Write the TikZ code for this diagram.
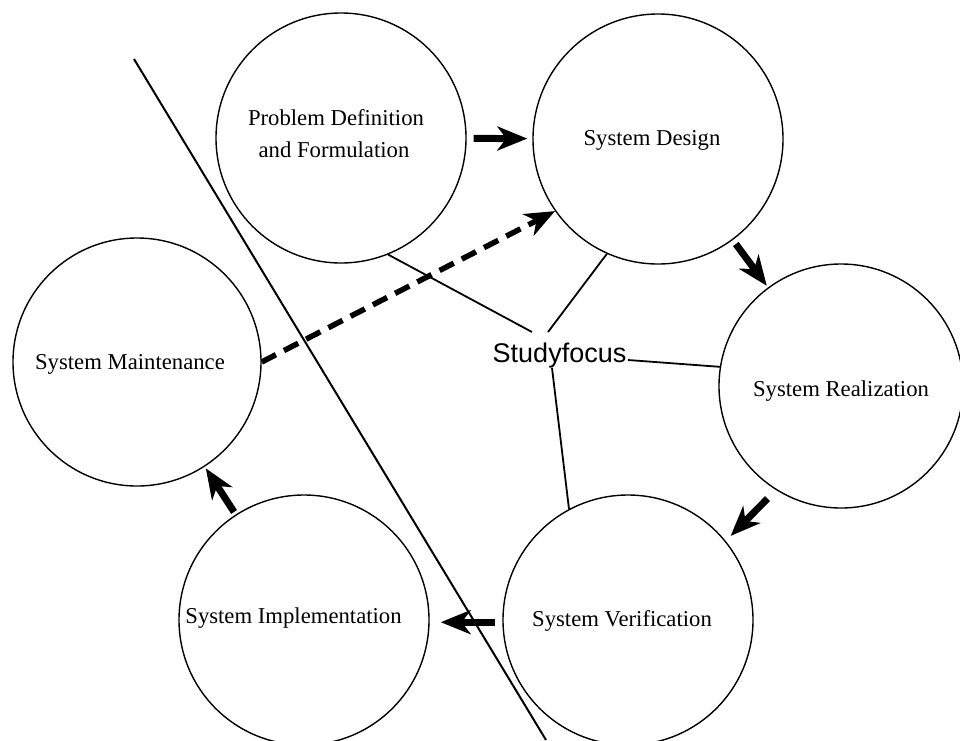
\documentclass[tikz,border=0pt]{standalone}
\usepackage{fontspec}
\setmainfont{Liberation Serif}
\newfontfamily\sfocus{Liberation Sans}
\usetikzlibrary{arrows.meta,calc}
\begin{document}
\begin{tikzpicture}[x=1pt,y=-1pt,
  stage/.style={circle,draw,line width=1.4pt,minimum size=250pt,inner sep=0pt},
  lbl/.style={font=\fontsize{22.7}{27}\selectfont,anchor=base,inner sep=0pt},
  flow/.style={line width=7pt,-{Stealth[length=30pt,width=24pt,inset=9pt]}},
  back/.style={line width=5.5pt,dash pattern=on 16pt off 9pt,-{Stealth[length=30pt,width=24pt,inset=9pt]}},
  link/.style={line width=1.8pt},
  divider/.style={line width=2pt}
]
\useasboundingbox (0,0) rectangle (960,740);
\fill[white] (0,0) rectangle (960,740);

% stages
\node[stage] (PD) at (341,138) {};
\node[stage] (SD) at (658,139) {};
\node[stage,minimum size=244pt] (SR) at (841,386) {};
\node[stage] (SV) at (628,620) {};
\node[stage] (SI) at (304,620) {};
\node[stage,minimum size=248pt] (SM) at (137,362) {};

% labels
\node[lbl] (PDa) at (336,125) {Problem Definition};
\node[lbl] (PDb) at (334,157) {and Formulation};
\node[lbl] (SDt) at (652,145) {System Design};
\node[lbl] (SRt) at (841,396) {System Realization};
\node[lbl] (SVt) at (622,626) {System Verification};
\node[lbl] (SIt) at (293.5,623) {System Implementation};
\node[lbl] (SMt) at (130,369) {System Maintenance};

% study focus
\node[font=\sfocus\fontsize{27}{30}\selectfont,anchor=base,inner sep=0pt] (SF) at (559.5,362) {Studyfocus};
\coordinate (fa) at (532,332);
\coordinate (fb) at (548,332);
\coordinate (fc) at (628,360);
\coordinate (fd) at (552,368);
\draw[link] (PD.292) -- (fa);
\draw[link] (SD.246) -- (fb);
\draw[link] (fc) -- (SR.171);
\draw[link] (fd) -- (SV.118);

% divider
\coordinate (L1) at (134,59);
\coordinate (L2) at (546,740);
\draw[divider] (L1) -- (L2);

% flow arrows
\draw[flow,shorten <=7pt,shorten >=5pt] (PD) -- (SD);
\draw[flow,shorten <=5pt,shorten >=2pt] (SD) -- (SR);
\draw[flow,shorten <=12pt,shorten >=7pt] (SR.238) -- (SV.39);
\draw[flow,shorten <=7pt,shorten >=11pt] (SV.181) -- (SI.-1);
\draw[flow,shorten <=3pt,shorten >=2pt] (SI) -- (SM);
\draw[back] (SM.east) -- (SD.215);
\end{tikzpicture}
\end{document}
